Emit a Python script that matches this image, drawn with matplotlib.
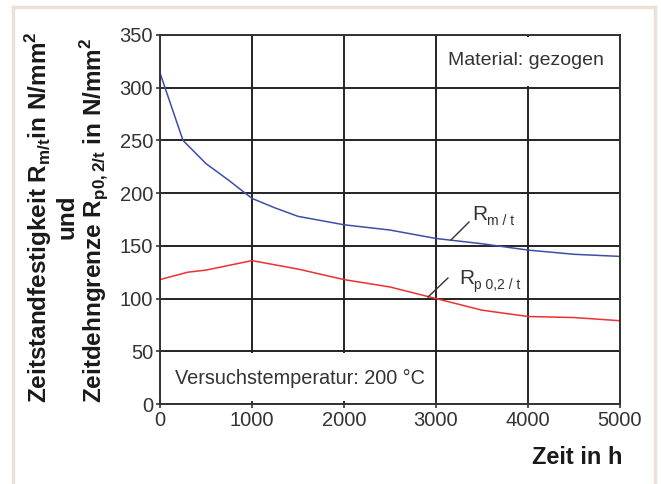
import matplotlib
matplotlib.use("Agg")
import matplotlib.pyplot as plt
from matplotlib.lines import Line2D
from matplotlib.patches import Rectangle

# ---- data ----
time_rm = [0, 250, 500, 750, 1000, 1250, 1500, 2000, 2500, 3000, 3500, 4000, 4500, 5000]
rm_t = [314, 250, 228, 212, 195, 186, 178, 170, 165, 157, 152, 146, 142, 140]
time_rp = [0, 300, 500, 1000, 1500, 2000, 2500, 3000, 3500, 4000, 4500, 5000]
rp_t = [118, 125, 127, 136, 128, 118, 111, 100, 89, 83, 82, 79]
x_ticks = [0, 1000, 2000, 3000, 4000, 5000]
y_ticks = [0, 50, 100, 150, 200, 250, 300, 350]

W, H = 661, 484
fig = plt.figure(figsize=(W / 100, H / 100), dpi=100)
fig.patch.set_facecolor("white")

narrow = ["Liberation Sans Narrow", "Liberation Sans", "DejaVu Sans"]
bold = ["Liberation Sans", "DejaVu Sans"]
plt.rcParams["mathtext.fontset"] = "custom"
plt.rcParams["mathtext.rm"] = "Liberation Sans"
plt.rcParams["mathtext.bf"] = "Liberation Sans:bold"

# beige frame
fc = "#ecdfd5"
fig.add_artist(Line2D([13.5 / W, 13.5 / W], [0, 1 - 6.5 / H], color=fc, lw=2.5))
fig.add_artist(Line2D([13.5 / W, 654.5 / W], [1 - 6.5 / H, 1 - 6.5 / H], color=fc, lw=2.5))
fig.add_artist(Line2D([654.5 / W, 654.5 / W], [0, 1 - 6.5 / H], color=fc, lw=2.5))

ax = fig.add_axes([160 / W, 1 - 404 / H, (620 - 160) / W, (404 - 35) / H])
ax.set_xlim(0, 5000)
ax.set_ylim(0, 350)
ax.set_xticks(x_ticks)
ax.set_yticks(y_ticks)
ax.grid(True, color="#222222", lw=1.4, zorder=1)
ax.set_axisbelow(True)
for s in ax.spines.values():
    s.set_color("#333333")
    s.set_linewidth(1.4)
    s.set_zorder(5)
ax.tick_params(direction="inout", length=6, width=1.2, color="#333333",
               labelcolor="#333333", labelsize=14.5, pad=2)
for lab in ax.get_xticklabels() + ax.get_yticklabels():
    lab.set_family(narrow)

# white boxes hiding grid behind annotations
ax.add_patch(Rectangle((15, 3), 2965, 45, facecolor="white", edgecolor="none", zorder=2))
ax.add_patch(Rectangle((3020, 302), 1965, 46, facecolor="white", edgecolor="none", zorder=2))

ax.plot(time_rm, rm_t, color="#3a50a8", lw=1.1, zorder=3)
ax.plot(time_rp, rp_t, color="#ee3030", lw=1.1, zorder=3)

ax.text(4826, 326, "Material: gezogen", family=narrow, fontsize=14,
        color="#333333", ha="right", va="center", zorder=4)
ax.text(163, 24.5, "Versuchstemperatur: 200 °C", family=narrow, fontsize=14.3,
        color="#333333", ha="left", va="center", zorder=4)

# curve labels with leader lines
ax.plot([3163, 3359], [155.6, 172.6], color="#333333", lw=1.0, zorder=4)
ax.text(3390, 180, "R", family=narrow, fontsize=15, color="#333333", ha="left", va="center", zorder=4)
ax.text(3550, 174, "m / t", family=narrow, fontsize=10, color="#333333", ha="left", va="center", zorder=4)
ax.plot([2913, 3130], [101.5, 119.5], color="#333333", lw=1.0, zorder=4)
ax.text(3250, 119, "R", family=narrow, fontsize=15, color="#333333", ha="left", va="center", zorder=4)
ax.text(3410, 113, "p 0,2 / t", family=narrow, fontsize=10, color="#333333", ha="left", va="center", zorder=4)

# axis labels
fig.text(622 / W, 1 - 458 / H, "Zeit in h", family=bold, fontweight="bold",
         fontsize=17, ha="right", va="center", color="#1a1a1a")
ylab_kw = dict(rotation=90, ha="center", va="center", fontsize=17.5,
               family=bold, fontweight="bold", color="#1a1a1a")
fig.text(39 / W, 1 - 217 / H,
         r"Zeitstandfestigkeit R$_{\mathbf{m/t}}$in N/mm$^{\mathbf{2}}$", **ylab_kw)
fig.text(67 / W, 1 - 217 / H, "und", **ylab_kw)
fig.text(95 / W, 1 - 220 / H,
         r"Zeitdehngrenze R$_{\mathbf{p0,2/t}}$ in N/mm$^{\mathbf{2}}$", **ylab_kw)

fig.savefig("out.png", dpi=100, facecolor="white")
